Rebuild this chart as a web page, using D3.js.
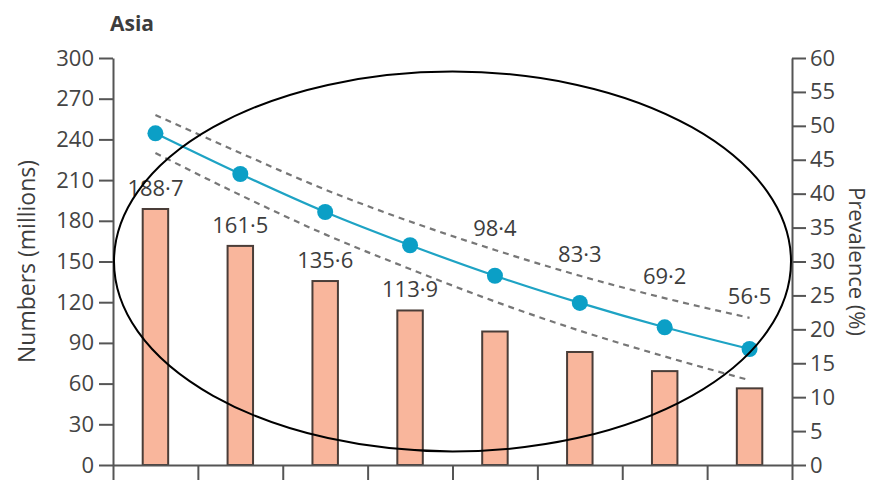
<!DOCTYPE html>
<html>
<head>
<meta charset="utf-8">
<script src="https://cdn.jsdelivr.net/npm/d3@7"></script>
<style>
  body { margin: 0; background: #fff; }
  text { font-family: "Open Sans", "Noto Sans", sans-serif; fill: #3d3d3d; }
  .axis path, .axis line { stroke: #555; stroke-width: 2; }
  .axis text { font-size: 22px; fill: #444; }
</style>
</head>
<body>
<div id="chart"></div>
<script>
// Asia: numbers (millions) as bars, prevalence (%) as line with CI band
const years = ["1990", "1995", "2000", "2005", "2010", "2015", "2020", "2025"];
const numbers = [188.7, 161.5, 135.6, 113.9, 98.4, 83.3, 69.2, 56.5];
const prevalence = [48.9, 42.9, 37.3, 32.4, 27.9, 23.9, 20.3, 17.1];
const upperCI = [51.6, 46.0, 40.6, 35.9, 31.7, 27.9, 24.6, 21.7];
const lowerCI = [46.0, 39.8, 34.0, 28.9, 24.1, 19.8, 16.0, 12.5];
const numberTicks = [0, 30, 60, 90, 120, 150, 180, 210, 240, 270, 300];
const prevalenceTicks = [0, 5, 10, 15, 20, 25, 30, 35, 40, 45, 50, 55, 60];

const width = 873,
    height = 480,
    margin = ({ top: 58, right: 81, bottom: 15, left: 113 });

const svg = d3.select("#chart")
    .append("svg")
    .attr("width", width)
    .attr("height", height);

// scales
let x = d3.scaleBand()
    .domain(years)
    .range([margin.left, width - margin.right])
    .padding(0);

let xEdge = d3.scaleLinear() // band boundaries, used for the bottom ticks
    .domain([0, years.length])
    .range([margin.left, width - margin.right]);

let yLeft = d3.scaleLinear()
    .domain([0, 300])
    .range([height - margin.bottom, margin.top]);

let yRight = d3.scaleLinear()
    .domain([0, 60])
    .range([height - margin.bottom, margin.top]);

const barW = x.bandwidth() * 0.3;
const cx = d => x(d) + x.bandwidth() / 2;

// bars
svg.append("g")
    .selectAll("rect")
    .data(numbers)
    .join("rect")
    .attr("x", (d, i) => cx(years[i]) - barW / 2)
    .attr("y", d => yLeft(d))
    .attr("width", barW)
    .attr("height", d => yLeft(0) - yLeft(d))
    .attr("fill", "#f9b69c")
    .attr("stroke", "#4a3d38")
    .attr("stroke-width", 2);

// axes
svg.append("g")
    .attr("class", "axis")
    .attr("transform", `translate(${margin.left},0)`)
    .call(d3.axisLeft(yLeft).tickValues(numberTicks).tickSize(14).tickPadding(5).tickSizeOuter(0));

svg.append("g")
    .attr("class", "axis")
    .attr("transform", `translate(${width - margin.right},0)`)
    .call(d3.axisRight(yRight).tickValues(prevalenceTicks).tickSize(14).tickPadding(4).tickSizeOuter(0));

svg.append("g")
    .attr("class", "axis")
    .attr("transform", `translate(0,${height - margin.bottom})`)
    .call(d3.axisBottom(xEdge).ticks(years.length).tickSize(22).tickFormat("").tickSizeOuter(0));

// confidence band (dashed)
let curve = d3.curveMonotoneX;
let lineL = arr => d3.line()
    .x((d, i) => cx(years[i]))
    .y(d => yRight(d))
    .curve(curve)(arr);

[upperCI, lowerCI].forEach(arr => {
    svg.append("path")
        .attr("d", lineL(arr))
        .attr("fill", "none")
        .attr("stroke", "#777")
        .attr("stroke-width", 2.2)
        .attr("stroke-dasharray", "6,5");
});

// prevalence line + points
svg.append("path")
    .attr("d", lineL(prevalence))
    .attr("fill", "none")
    .attr("stroke", "#1ea3c4")
    .attr("stroke-width", 2.2);

svg.append("g")
    .selectAll("circle")
    .data(prevalence)
    .join("circle")
    .attr("cx", (d, i) => cx(years[i]))
    .attr("cy", d => yRight(d))
    .attr("r", 8)
    .attr("fill", "#0b9fc6");

// value labels: above the bar, or above the band when the bar sits under it
const fmt = d => d3.format(".1f")(d).replace(".", "·");
svg.append("g")
    .selectAll("text")
    .data(numbers)
    .join("text")
    .attr("x", (d, i) => cx(years[i]))
    .attr("y", (d, i) => {
        let above = yLeft(d) - 13;
        if (above - 17 > yRight(lowerCI[i]) + 8) return above;
        return yRight(upperCI[i]) - 14;
    })
    .attr("text-anchor", "middle")
    .attr("font-size", "22px")
    .text(fmt);

// titles
svg.append("text")
    .attr("x", 110)
    .attr("y", 31)
    .attr("font-size", "21px")
    .attr("font-weight", "bold")
    .attr("fill", "#333")
    .text("Asia");

svg.append("text")
    .attr("transform", `translate(35,${(yLeft(0) + yLeft(300)) / 2}) rotate(-90)`)
    .attr("text-anchor", "middle")
    .attr("font-size", "23px")
    .text("Numbers (millions)");

svg.append("text")
    .attr("transform", `translate(849,${(yRight(0) + yRight(60)) / 2}) rotate(90)`)
    .attr("text-anchor", "middle")
    .attr("font-size", "22px")
    .text("Prevalence (%)");

// hand-drawn style ellipse annotation over the plot
svg.append("ellipse")
    .attr("cx", xEdge(4))
    .attr("cy", yLeft(150))
    .attr("rx", xEdge(4) - xEdge(0) - 1)
    .attr("ry", yLeft(0) - yLeft(140))
    .attr("fill", "none")
    .attr("stroke", "#000")
    .attr("stroke-width", 2);
</script>
</body>
</html>
